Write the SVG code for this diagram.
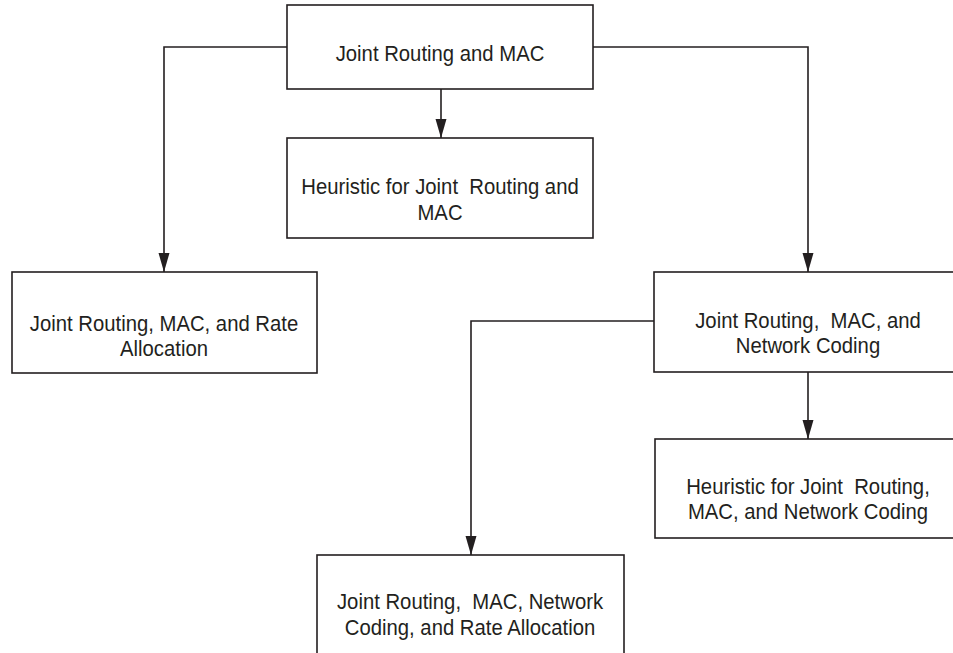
<svg xmlns="http://www.w3.org/2000/svg" width="953" height="653" viewBox="0 0 953 653" xml:space="preserve">
<style>
.box{fill:#ffffff;stroke:#231f20;stroke-width:1.6}
.lbl{font-family:"Liberation Sans",Arial,sans-serif;font-size:20.3px;fill:#231f20;text-anchor:middle;white-space:pre}
.edge{fill:none;stroke:#231f20;stroke-width:1.6;marker-end:url(#arr)}
</style>
<defs>
<marker id="arr" markerUnits="userSpaceOnUse" markerWidth="20" markerHeight="12" refX="19" refY="5.5" orient="auto">
<path d="M0,0 L19,5.5 L0,11 Z" fill="#231f20"/>
</marker>
</defs>
<rect width="953" height="653" fill="#ffffff"/>
<g id="connectors">
<path class="edge" d="M287,47 H164 V272"/>
<path class="edge" d="M593,47 H808 V272"/>
<path class="edge" d="M441,89 V138"/>
<path class="edge" d="M654,321 H471 V555"/>
<path class="edge" d="M808,372 V439"/>
</g>
<g id="n-top">
<rect class="box" x="287" y="5" width="306" height="84"/>
<text class="lbl" transform="translate(440,61) scale(1,1.1)">Joint Routing and MAC</text>
</g>
<g id="n-heur-mac">
<rect class="box" x="287" y="138" width="306" height="100"/>
<text class="lbl" transform="translate(440,194) scale(1,1.1)">Heuristic for Joint  Routing and</text>
<text class="lbl" transform="translate(440,220) scale(1,1.1)">MAC</text>
</g>
<g id="n-rate">
<rect class="box" x="12" y="272" width="305" height="101"/>
<text class="lbl" transform="translate(164,331) scale(1,1.1)">Joint Routing, MAC, and Rate</text>
<text class="lbl" transform="translate(164,356) scale(1,1.1)">Allocation</text>
</g>
<g id="n-nc">
<rect class="box" x="654" y="272" width="308" height="100"/>
<text class="lbl" transform="translate(808,328) scale(1,1.1)">Joint Routing,  MAC, and</text>
<text class="lbl" transform="translate(808,353) scale(1,1.1)">Network Coding</text>
</g>
<g id="n-heur-nc">
<rect class="box" x="655" y="439" width="307" height="99"/>
<text class="lbl" transform="translate(808,494) scale(1,1.1)">Heuristic for Joint  Routing,</text>
<text class="lbl" transform="translate(808,519) scale(1,1.1)">MAC, and Network Coding</text>
</g>
<g id="n-nc-rate">
<rect class="box" x="317" y="555" width="307" height="110"/>
<text class="lbl" transform="translate(470,609) scale(1,1.1)">Joint Routing,  MAC, Network</text>
<text class="lbl" transform="translate(470,635) scale(1,1.1)">Coding, and Rate Allocation</text>
</g>
</svg>
